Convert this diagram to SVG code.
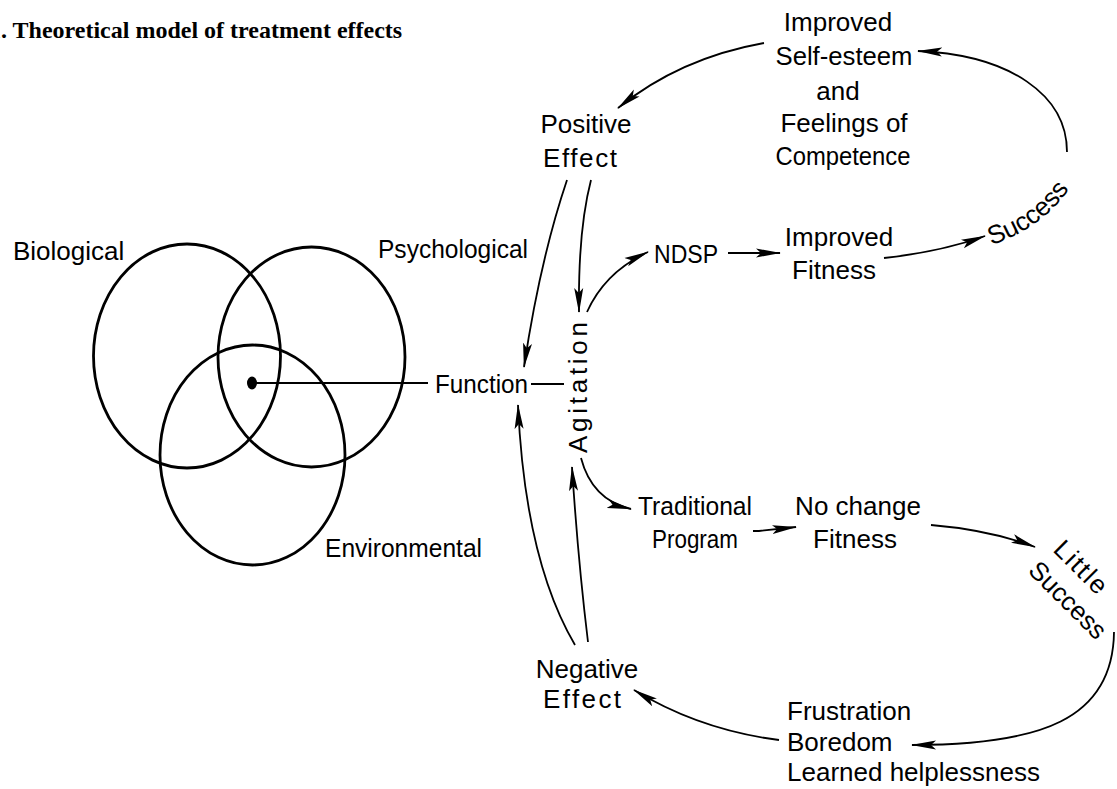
<svg xmlns="http://www.w3.org/2000/svg" width="1117" height="789" viewBox="0 0 1117 789">
<style>
  .lbl { font-family: "Liberation Sans", Arial, sans-serif; font-size: 26px; fill: #000; }
  .mid { text-anchor: middle; }
  .circ { fill: none; stroke: #000; stroke-width: 2.8; }
  .con { fill: none; stroke: #000; stroke-width: 1.8; }
  .arr { fill: none; stroke: #000; stroke-width: 1.8; marker-end: url(#ah); }
  .title { font-family: "Liberation Serif", "Times New Roman", serif; font-weight: bold; font-size: 24px; fill: #000; }
</style>
<defs>
  <marker id="ah" markerWidth="26" markerHeight="10" refX="24" refY="5" orient="auto" markerUnits="userSpaceOnUse">
    <path d="M0,0.5 L25,5 L0,9.5 L5,5 z" fill="#000"/>
  </marker>
  <path id="p-success" d="M991,245 Q1045,228 1074,182"/>
</defs>
<rect width="1117" height="789" fill="#fff"/>

<text class="title" x="-11" y="38">1. Theoretical model of treatment effects</text>

<g id="venn">
  <ellipse class="circ" cx="187" cy="356" rx="93.5" ry="112"/>
  <ellipse class="circ" cx="311.5" cy="357" rx="93.5" ry="110"/>
  <ellipse class="circ" cx="252.5" cy="455" rx="92.5" ry="110"/>
  <ellipse cx="252" cy="383" rx="5" ry="6.5" fill="#000"/>
</g>
<g id="n-biological"><text class="lbl" x="13" y="260">Biological</text></g>
<g id="n-psychological"><text class="lbl" x="378" y="258" textLength="150" lengthAdjust="spacingAndGlyphs">Psychological</text></g>
<g id="n-environmental"><text class="lbl" x="325" y="557" textLength="157" lengthAdjust="spacingAndGlyphs">Environmental</text></g>
<g id="n-function"><text class="lbl" x="435" y="393" textLength="93" lengthAdjust="spacingAndGlyphs">Function</text></g>
<g id="n-agitation"><text class="lbl mid" transform="translate(587,387.5) rotate(-90)" x="0" y="0" textLength="131" lengthAdjust="spacing">Agitation</text></g>

<g id="n-selfesteem" class="lbl mid">
  <text x="838" y="31">Improved</text>
  <text x="844" y="65" textLength="137" lengthAdjust="spacingAndGlyphs">Self-esteem</text>
  <text x="838" y="100">and</text>
  <text x="844" y="132">Feelings of</text>
  <text x="843" y="165" textLength="135" lengthAdjust="spacingAndGlyphs">Competence</text>
</g>
<g id="n-positive" class="lbl mid">
  <text x="586" y="133">Positive</text>
  <text x="580" y="167" textLength="74" lengthAdjust="spacing">Effect</text>
</g>
<g id="n-ndsp"><text class="lbl" x="654" y="263" textLength="64" lengthAdjust="spacingAndGlyphs">NDSP</text></g>
<g id="n-improvedfitness" class="lbl mid">
  <text x="839" y="246">Improved</text>
  <text x="834" y="279">Fitness</text>
</g>
<g id="n-success"><text class="lbl"><textPath href="#p-success">Success</textPath></text></g>
<g id="n-traditional" class="lbl mid">
  <text x="695" y="515" textLength="114" lengthAdjust="spacingAndGlyphs">Traditional</text>
  <text x="695" y="548" textLength="86" lengthAdjust="spacingAndGlyphs">Program</text>
</g>
<g id="n-nochange" class="lbl mid">
  <text x="858" y="515">No change</text>
  <text x="855" y="548">Fitness</text>
</g>
<g id="n-littlesuccess" class="lbl mid">
  <text transform="translate(1081,567) rotate(45)" x="0" y="9" textLength="64" lengthAdjust="spacing">Little</text>
  <text transform="translate(1068,600) rotate(45)" x="0" y="9" textLength="98" lengthAdjust="spacing">Success</text>
</g>
<g id="n-frustration" class="lbl">
  <text x="787" y="720">Frustration</text>
  <text x="787" y="751">Boredom</text>
  <text x="787" y="781">Learned helplessness</text>
</g>
<g id="n-negative" class="lbl mid">
  <text x="587" y="678">Negative</text>
  <text x="582" y="708" textLength="78" lengthAdjust="spacing">Effect</text>
</g>

<g id="connectors">
  <line class="con" x1="252" y1="383" x2="428" y2="383"/>
  <line class="con" x1="531" y1="384" x2="564" y2="384"/>
  <path class="arr" d="M1067,152 C1067,95 1010,55 918,51"/>
  <path class="arr" d="M764,43 Q680,58 618,108"/>
  <path class="arr" d="M567,180 Q540,260 524,367"/>
  <path class="arr" d="M591,180 Q578,230 579,312"/>
  <path class="arr" d="M587,312 Q605,272 648,252"/>
  <path class="arr" d="M728,253 L780,253"/>
  <path class="arr" d="M884,258 Q940,252 985,236"/>
  <path class="arr" d="M581,458 Q592,500 631,509"/>
  <path class="arr" d="M753,531 L759,531 L796,527"/>
  <path class="arr" d="M931,525 Q990,530 1035,547"/>
  <path class="arr" d="M1114,632 C1113,720 1040,745 912,745"/>
  <path class="arr" d="M779,740 Q700,730 634,690"/>
  <path class="arr" d="M575,645 Q525,560 518,405"/>
  <path class="arr" d="M588,642 Q578,560 572,467"/>
</g>
</svg>
